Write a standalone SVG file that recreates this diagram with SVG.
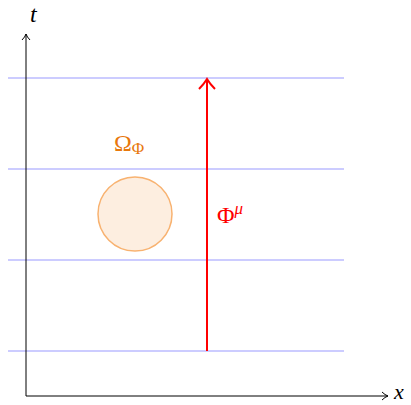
<svg xmlns="http://www.w3.org/2000/svg" width="411" height="405" viewBox="0 0 411 405">
<style>
.grid{stroke:#9999ff;stroke-width:1;fill:none}
.axis{stroke:#000;stroke-width:1;fill:none}
.serif{font-family:"Liberation Serif","DejaVu Serif",serif}
.it{font-family:"Liberation Serif","DejaVu Serif",serif;font-style:italic}
</style>
<defs>
<marker id="ah" markerWidth="10" markerHeight="10" refX="7" refY="5" orient="auto" markerUnits="userSpaceOnUse">
<path d="M1,1 Q4,4 7,5 Q4,6 1,9" fill="none" stroke="#000" stroke-width="1"/>
</marker>
<marker id="rh" markerWidth="20" markerHeight="20" refX="12" refY="10" orient="auto" markerUnits="userSpaceOnUse">
<path d="M2,2 Q7,7 12,10 Q7,13 2,18" fill="none" stroke="#ff0000" stroke-width="2"/>
</marker>
</defs>
<g id="grid">
<line class="grid" x1="8" y1="78" x2="344" y2="78"/>
<line class="grid" x1="8" y1="169" x2="344" y2="169"/>
<line class="grid" x1="8" y1="260" x2="344" y2="260"/>
<line class="grid" x1="8" y1="351" x2="344" y2="351"/>
</g>
<g id="connectors">
<line class="axis" x1="26" y1="396" x2="26" y2="34" marker-end="url(#ah)"/>
<line class="axis" x1="26" y1="396" x2="388" y2="396" marker-end="url(#ah)"/>
<line x1="207" y1="351" x2="207" y2="79" stroke="#ff0000" stroke-width="2" marker-end="url(#rh)"/>
</g>
<g id="omega">
<circle cx="135" cy="214" r="37" fill="#fdeee0" stroke="#f8b270" stroke-width="1.5"/>
<text class="serif" x="114" y="151" font-size="24" fill="#e8780c">Ω<tspan font-size="17" dy="3">Φ</tspan></text>
</g>
<g id="phi">
<text class="serif" x="217" y="223" font-size="24" fill="#ff0000">Φ<tspan class="it" font-size="17" dy="-9">μ</tspan></text>
</g>
<g id="labels">
<text class="it" x="30" y="22" font-size="24">t</text>
<text class="it" x="394" y="399" font-size="22">x</text>
</g>
</svg>
